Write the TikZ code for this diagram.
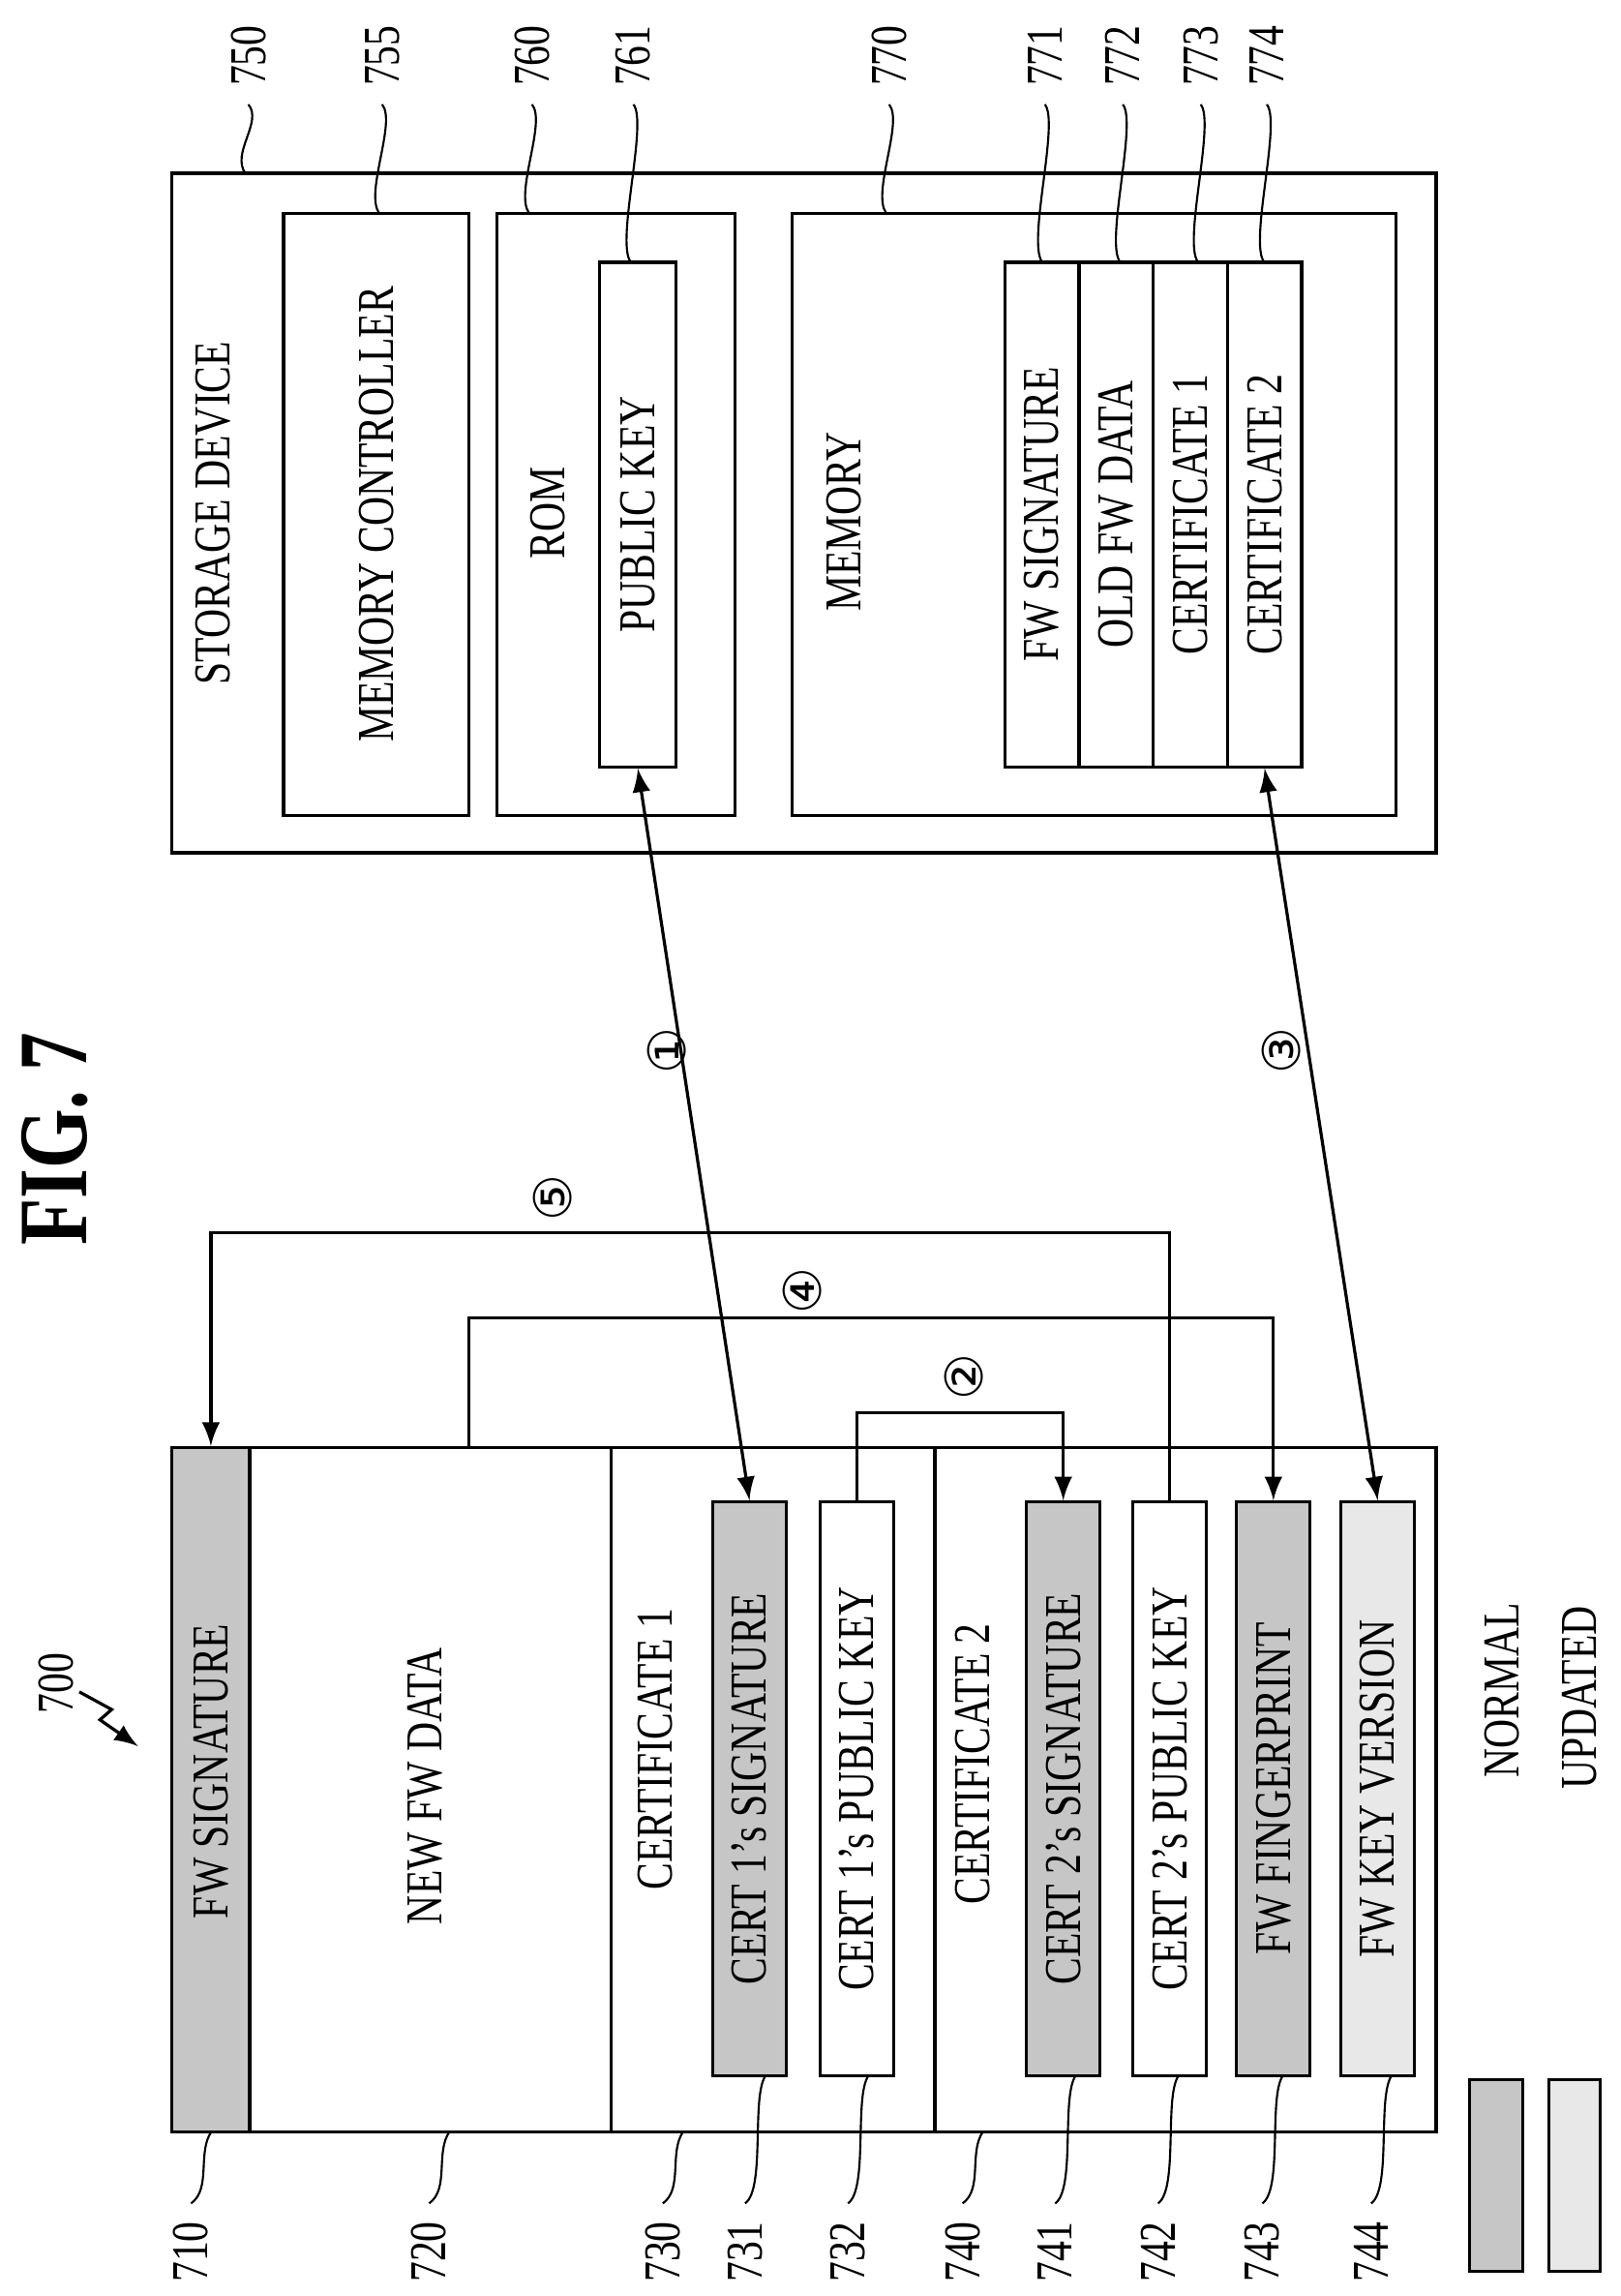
\documentclass[tikz,border=0pt]{standalone}
\usepackage{fontspec}
\setmainfont{Liberation Serif}[FakeStretch=0.78]
\newfontfamily\circfont{DejaVu Sans}
\usetikzlibrary{calc}

\begin{document}
\begin{tikzpicture}
        [
            x=0.01cm, y=-0.01cm,
            boxed/.style   = {shape=rectangle, draw, semithick, inner sep=0pt},
            normal/.style  = {boxed, fill=gray!45},
            updated/.style = {boxed, fill=gray!18},
            txt/.style     = {rotate=90, font=\fontsize{10}{12}\selectfont},
            num/.style     = {rotate=90, font=\fontsize{10}{12}\selectfont},
            circ/.style    = {rotate=90, font=\circfont\fontsize{10}{12}\selectfont},
            link/.style    = {semithick, -latex},
            dlink/.style   = {semithick, latex-latex},
            ]
            \useasboundingbox (0,0) rectangle (1103,1562);
            % storage device
            \node [boxed, minimum width=8.60cm, minimum height=4.62cm] (sd750) at (547,349) {};
            \node [boxed, minimum width=1.26cm, minimum height=4.09cm] (mc755) at (256,350) {};
            \node [boxed, minimum width=1.62cm, minimum height=4.09cm] (rom760) at (419,350) {};
            \node [boxed, minimum width=0.52cm, minimum height=3.43cm] (k761) at (434,350) {};
            \node [boxed, minimum width=4.11cm, minimum height=4.09cm] (mem770) at (744.5,350) {};
            \node [boxed, minimum width=0.505cm, minimum height=3.43cm] (m771) at (709,350) {};
            \node [boxed, minimum width=0.505cm, minimum height=3.43cm] (m772) at (759.5,350) {};
            \node [boxed, minimum width=0.505cm, minimum height=3.43cm] (m773) at (810,350) {};
            \node [boxed, minimum width=0.505cm, minimum height=3.43cm] (m774) at (860.5,350) {};
            \node [txt] (tsd) at (145,349) {STORAGE DEVICE};
            \node [txt] (tmc) at (256,350) {MEMORY CONTROLLER};
            \node [txt] (trom) at (373,349) {ROM};
            \node [txt] (tk) at (434,350) {PUBLIC KEY};
            \node [txt] (tmem) at (574,355) {MEMORY};
            \node [txt] (tm1) at (709,350) {FW SIGNATURE};
            \node [txt] (tm2) at (759.5,350) {OLD FW DATA};
            \node [txt] (tm3) at (810,350) {CERTIFICATE 1};
            \node [txt] (tm4) at (860.5,350) {CERTIFICATE 2};
            % firmware package
            \node [boxed, minimum width=8.60cm, minimum height=4.65cm] (pk700) at (547,1217.5) {};
            \node [normal, minimum width=0.53cm, minimum height=4.65cm] (s710) at (143.5,1217.5) {};
            \node [boxed, minimum width=2.46cm, minimum height=4.65cm] (d720) at (293,1217.5) {};
            \node [boxed, minimum width=2.20cm, minimum height=4.65cm] (r730) at (526,1217.5) {};
            \node [boxed, minimum width=3.41cm, minimum height=4.65cm] (r740) at (806.5,1217.5) {};
            \node [normal, minimum width=0.50cm, minimum height=3.90cm] (c731) at (510,1217) {};
            \node [boxed, minimum width=0.50cm, minimum height=3.90cm] (c732) at (583,1217) {};
            \node [normal, minimum width=0.50cm, minimum height=3.90cm] (c741) at (723.5,1217) {};
            \node [boxed, minimum width=0.50cm, minimum height=3.90cm] (c742) at (796,1217) {};
            \node [normal, minimum width=0.50cm, minimum height=3.90cm] (c743) at (866.5,1217) {};
            \node [updated, minimum width=0.50cm, minimum height=3.90cm] (c744) at (937.5,1217) {};
            \node [txt] (t710) at (144,1205) {FW SIGNATURE};
            \node [txt] (t720) at (289,1215) {NEW FW DATA};
            \node [txt] (t730) at (446,1190) {CERTIFICATE 1};
            \node [txt] (t740) at (662,1200) {CERTIFICATE 2};
            \node [txt] (t731) at (510,1217) {CERT 1's SIGNATURE};
            \node [txt] (t732) at (583,1217) {CERT 1's PUBLIC KEY};
            \node [txt] (t741) at (723.5,1217) {CERT 2's SIGNATURE};
            \node [txt] (t742) at (796,1217) {CERT 2's PUBLIC KEY};
            \node [txt] (t743) at (866.5,1217) {FW FINGERPRINT};
            \node [txt] (t744) at (937.5,1217) {FW KEY VERSION};
            % legend
            \node [normal, minimum width=0.36cm, minimum height=1.30cm] (lg1) at (1018,1480) {};
            \node [updated, minimum width=0.35cm, minimum height=1.30cm] (lg2) at (1071.5,1480) {};
            \node [txt] (tlg1) at (1022,1150) {NORMAL};
            \node [txt] (tlg2) at (1075,1155) {UPDATED};
            % title
            \node [rotate=90, font=\fontsize{19}{22}\selectfont\bfseries] (fig) at (37,775) {FIG. 7};
            % connectors
            \draw [dlink] (k761.south) -- (c731.north);
            \draw [dlink] (m774.south) -- (c744.north);
            \draw [link] (c732.north) -- ++(0,-60) -| (c741.north);
            \draw [link] ($(d720.north)+(26,0)$) -- ++(0,-87) -| (c743.north);
            \draw [link] (c742.north) -- ++(0,-182) -| (s710.north);
            \node [circ] (n1) at (454,715) {①};
            \node [circ] (n2) at (656,937) {②};
            \node [circ] (n3) at (872,715) {③};
            \node [circ] (n4) at (546,878) {④};
            \node [circ] (n5) at (376,815) {⑤};
            % reference numerals
            \node [num] (l700) at (38,1145) {700};
            \draw [semithick, -latex] ($(l700)+(16,6)$) -- (76,1163) -- (68,1170) -- (94,1188);
            \foreach \n/\x/\e in {750/169/118, 755/260/145, 760/362/145, 761/431/178, 770/605/145,
                                  771/711/178, 772/764/178, 773/817/178, 774/862/178}
            {
                \node [num] (l\n) at (\x,38) {\n};
                \draw (l\n.west) .. controls +(10,12) and +(-10,-14) .. (\x-2,\e);
            }
            \foreach \n/\x/\e in {710/130/1450, 720/292/1450, 730/451/1450, 731/507/1412, 732/577/1412,
                                  740/655/1450, 741/718/1412, 742/788/1412, 743/859/1412, 744/933/1412}
            {
                \node [num] (l\n) at (\x,1532) {\n};
                \draw (l\n.east) .. controls +(14,-10) and +(-10,14) .. (\x+14,\e);
            }
        \end{tikzpicture}
\end{document}
